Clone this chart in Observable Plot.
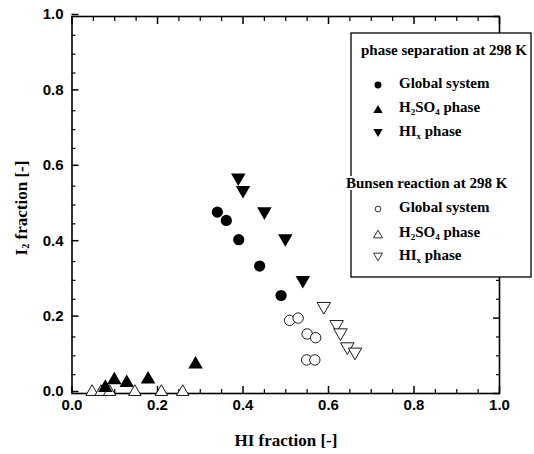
<!DOCTYPE html>
<html><head><meta charset="utf-8">
<script src="https://cdn.jsdelivr.net/npm/d3@7"></script>
<script src="https://cdn.jsdelivr.net/npm/@observablehq/plot@0.6"></script>
<style>body{margin:0;background:#fff}</style>
</head><body><div id="chart"></div>
<script>
// tick values
const majorTicks = [0, 0.2, 0.4, 0.6, 0.8, 1.0];
const minorTicks = [0.05, 0.1, 0.15, 0.25, 0.3, 0.35, 0.45, 0.5, 0.55, 0.65, 0.7, 0.75, 0.85, 0.9, 0.95];

// phase separation at 298 K
const psGlobalX = [0.340, 0.361, 0.390, 0.439, 0.489];
const psGlobalY = [0.481, 0.459, 0.408, 0.338, 0.260];
const psH2so4X  = [0.078, 0.099, 0.128, 0.178, 0.289];
const psH2so4Y  = [0.021, 0.041, 0.034, 0.043, 0.083];
const psHixX    = [0.389, 0.400, 0.450, 0.499, 0.540];
const psHixY    = [0.567, 0.534, 0.477, 0.406, 0.295];

// Bunsen reaction at 298 K
const brGlobalX = [0.509, 0.529, 0.550, 0.570, 0.549, 0.568];
const brGlobalY = [0.194, 0.200, 0.158, 0.148, 0.089, 0.089];
const brH2so4X  = [0.047, 0.068, 0.088, 0.147, 0.209, 0.259];
const brH2so4Y  = [0.009, 0.009, 0.009, 0.009, 0.009, 0.009];
const brHixX    = [0.589, 0.619, 0.628, 0.644, 0.662];
const brHixY    = [0.226, 0.178, 0.156, 0.119, 0.105];

const pts = (xs, ys) => xs.map((x, i) => ({x, y: ys[i]}));

// triangle symbols centred on their bounding box
const triUp = {draw(ctx, size) {
  const s = Math.sqrt(4 * size / Math.sqrt(3)), h = s * Math.sqrt(3) / 2;
  ctx.moveTo(0, -h / 2); ctx.lineTo(s / 2, h / 2); ctx.lineTo(-s / 2, h / 2); ctx.closePath();
}};
const triDown = {draw(ctx, size) {
  const s = Math.sqrt(4 * size / Math.sqrt(3)), h = s * Math.sqrt(3) / 2;
  ctx.moveTo(0, h / 2); ctx.lineTo(s / 2, -h / 2); ctx.lineTo(-s / 2, -h / 2); ctx.closePath();
}};

const fmt = d3.format(".1f");
const svg = Plot.plot({
  width: 534, height: 454,
  marginLeft: 71.5, marginRight: 35, marginTop: 16, marginBottom: 61,
  x: {domain: [0, 1]},
  y: {domain: [0, 1]},
  style: {fontFamily: "'Liberation Sans', Arial, sans-serif", fontSize: "15px", fontWeight: "bold", background: "white", color: "black"},
  marks: [
    Plot.axisX({anchor: "bottom", ticks: majorTicks, tickSize: -7, tickPadding: 13, tickFormat: fmt, label: null, strokeWidth: 1.5}),
    Plot.axisX({anchor: "bottom", ticks: minorTicks, tickSize: -4, fill: "none", label: null, strokeWidth: 1.2}),
    Plot.axisX({anchor: "top", ticks: majorTicks, tickSize: -7, fill: "none", label: null, strokeWidth: 1.5}),
    Plot.axisX({anchor: "top", ticks: minorTicks, tickSize: -4, fill: "none", label: null, strokeWidth: 1.2}),
    Plot.axisY({anchor: "left", ticks: majorTicks, tickSize: -7, tickPadding: 15.5, tickFormat: fmt, label: null, strokeWidth: 1.5, dy: -2}),
    Plot.axisY({anchor: "left", ticks: minorTicks, tickSize: -4, fill: "none", label: null, strokeWidth: 1.2}),
    Plot.axisY({anchor: "right", ticks: majorTicks, tickSize: -7, fill: "none", label: null, strokeWidth: 1.5}),
    Plot.axisY({anchor: "right", ticks: minorTicks, tickSize: -4, fill: "none", label: null, strokeWidth: 1.2}),
    Plot.frame({strokeWidth: 1.6}),
    Plot.dot(pts(brH2so4X, brH2so4Y), {x: "x", y: "y", r: 4.6, symbol: triUp, fill: "white", stroke: "black", strokeWidth: 0.9}),
    Plot.dot(pts(brGlobalX, brGlobalY), {x: "x", y: "y", r: 5.2, fill: "white", stroke: "black", strokeWidth: 0.9}),
    Plot.dot(pts(brHixX, brHixY), {x: "x", y: "y", r: 5, symbol: triDown, fill: "white", stroke: "black", strokeWidth: 0.9}),
    Plot.dot(pts(psGlobalX, psGlobalY), {x: "x", y: "y", r: 5.6, fill: "black", stroke: "none"}),
    Plot.dot(pts(psH2so4X, psH2so4Y), {x: "x", y: "y", r: 5.4, symbol: triUp, fill: "black", stroke: "none"}),
    Plot.dot(pts(psHixX, psHixY), {x: "x", y: "y", r: 5.4, symbol: triDown, fill: "black", stroke: "none"})
  ]
});
document.getElementById("chart").appendChild(svg);

// axis titles and legend
const S = d3.select(svg);
const serif = "'Liberation Serif', 'Times New Roman', serif";

// parts: strings, or {sub: "..."} for subscripts
function richText(g, parts, attrs, anchor) {
  const t = g.append("text")
    .style("font-family", serif).style("font-weight", "bold")
    .style("text-anchor", anchor || "start");
  Object.entries(attrs).forEach(([k, v]) => t.attr(k, v));
  let lowered = false;
  parts.forEach(p => {
    const ts = t.append("tspan");
    if (typeof p === "string") {
      if (lowered) { ts.attr("dy", -4); lowered = false; }
      ts.text(p);
    } else {
      ts.attr("dy", 4).style("font-size", "0.6em").text(p.sub);
      lowered = true;
    }
  });
  return t;
}

const titles = S.append("g");
richText(titles, ["HI fraction [-]"], {x: 286, y: 442, "dominant-baseline": "middle", "font-size": 17}, "middle");
richText(titles, ["I", {sub: "2"}, " fraction [-]"], {transform: "translate(23,208) rotate(-90)", "dominant-baseline": "middle", "font-size": 17}, "middle");

const legendGroups = ["phase separation at 298 K", "Bunsen reaction at 298 K"];
const legendLabels = [["Global system"], ["H", {sub: "2"}, "SO", {sub: "4"}, " phase"], ["HI", {sub: "x"}, " phase"]];

const L = S.append("g");
L.append("rect").attr("x", 351).attr("y", 33).attr("width", 180).attr("height", 244)
  .attr("fill", "white").attr("stroke", "black").attr("stroke-width", 1.3);

const rowsY = [[52, 85, 109, 133], [185, 209, 234, 257]];
const legendSym = [
  [{type: d3.symbolCircle, size: 38, fill: "black"}, {type: triUp, size: 38, fill: "black"}, {type: triDown, size: 38, fill: "black"}],
  [{type: d3.symbolCircle, size: 26, fill: "white"}, {type: triUp, size: 34, fill: "white"}, {type: triDown, size: 34, fill: "white"}]
];
legendGroups.forEach((title, gi) => {
  const ys = rowsY[gi];
  richText(L, [title], {x: gi === 0 ? 361 : 346, y: ys[0], "dominant-baseline": "middle", "font-size": 15,
    stroke: "white", "stroke-width": 4, "paint-order": "stroke"});
  legendLabels.forEach((lab, i) => {
    const s = legendSym[gi][i];
    L.append("path").attr("transform", `translate(378,${ys[i + 1]})`)
      .attr("d", d3.symbol(s.type, s.size)())
      .attr("fill", s.fill).attr("stroke", s.fill === "white" ? "black" : "none").attr("stroke-width", 0.8);
    richText(L, lab, {x: 399, y: ys[i + 1], "dominant-baseline": "middle", "font-size": 15});
  });
});
</script>
</body></html>
